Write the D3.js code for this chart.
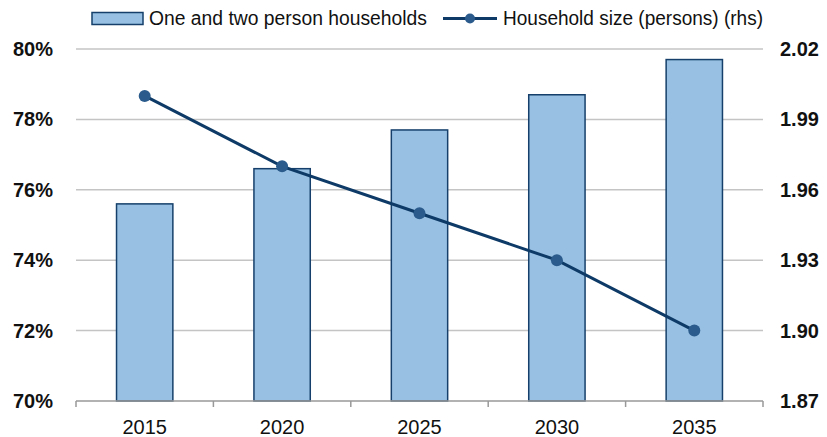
<!DOCTYPE html>
<html>
<head>
<meta charset="utf-8">
<script src="https://cdn.jsdelivr.net/npm/d3@7"></script>
<style>
  body { margin: 0; background: #fff; }
  text { font-family: "Liberation Sans", Arial, sans-serif; }
</style>
</head>
<body>
<div id="chart"></div>
<script>
const years = ["2015", "2020", "2025", "2030", "2035"]
const sharePct = [75.6, 76.6, 77.7, 78.7, 79.7]
const hhSize = [2.00, 1.97, 1.95, 1.93, 1.90]
const leftTicks = [70, 72, 74, 76, 78, 80]
const rightTicks = [1.87, 1.90, 1.93, 1.96, 1.99, 2.02]

const W = 827, H = 437
const m = {top: 49, right: 64, bottom: 36, left: 76}

let svg = d3.select("#chart").append("svg").attr("width", W).attr("height", H)

let x = d3.scaleBand().domain(years).range([m.left, W - m.right]).paddingInner(0.59).paddingOuter(0.295)
let xb = d3.scaleBand().domain(years).range([m.left, W - m.right])
let yL = d3.scaleLinear().domain([70, 80]).range([H - m.bottom, m.top])
let yR = d3.scaleLinear().domain([1.87, 2.02]).range([H - m.bottom, m.top])

// gridlines
svg.selectAll(".grid").data(leftTicks.slice(1)).enter()
  .append("line")
  .attr("x1", m.left).attr("x2", W - m.right)
  .attr("y1", d => yL(d)).attr("y2", d => yL(d))
  .attr("stroke", "#c4c4c4").attr("stroke-width", 1.5)

// bars
svg.selectAll(".bar").data(sharePct).enter()
  .append("rect")
  .attr("x", (d, i) => x(years[i]))
  .attr("width", x.bandwidth())
  .attr("y", d => yL(d))
  .attr("height", d => yL(70) - yL(d))
  .attr("fill", "#98c0e3")
  .attr("stroke", "#16406b").attr("stroke-width", 1.5)

// x axis
svg.append("line")
  .attr("x1", m.left).attr("x2", W - m.right)
  .attr("y1", yL(70)).attr("y2", yL(70))
  .attr("stroke", "#999").attr("stroke-width", 1.5)
let bounds = years.map(d => xb(d)).concat([W - m.right])
svg.selectAll(".tick").data(bounds).enter()
  .append("line")
  .attr("x1", d => d).attr("x2", d => d)
  .attr("y1", yL(70)).attr("y2", yL(70) + 6)
  .attr("stroke", "#999").attr("stroke-width", 1.5)
svg.selectAll(".xlab").data(years).enter()
  .append("text")
  .attr("x", d => xb(d) + xb.bandwidth() / 2)
  .attr("y", H - 3)
  .attr("text-anchor", "middle")
  .attr("font-size", 20)
  .attr("fill", "#111")
  .text(d => d)

// left labels
svg.selectAll(".ylab").data(leftTicks).enter()
  .append("text")
  .attr("x", 53)
  .attr("y", d => yL(d) + 7)
  .attr("text-anchor", "end")
  .attr("font-size", 20).attr("font-weight", "bold")
  .attr("fill", "#111")
  .text(d => d + "%")

// right labels
svg.selectAll(".yrlab").data(rightTicks).enter()
  .append("text")
  .attr("x", 780)
  .attr("y", d => yR(d) + 7)
  .attr("font-size", 20).attr("font-weight", "bold")
  .attr("fill", "#111")
  .text(d => d.toFixed(2))

// line
let line = d3.line().x((d, i) => xb(years[i]) + xb.bandwidth() / 2).y(d => yR(d))
svg.append("path").datum(hhSize)
  .attr("d", line)
  .attr("fill", "none")
  .attr("stroke", "#0d3a66").attr("stroke-width", 3)
svg.selectAll(".dot").data(hhSize).enter()
  .append("circle")
  .attr("cx", (d, i) => xb(years[i]) + xb.bandwidth() / 2)
  .attr("cy", d => yR(d))
  .attr("r", 6)
  .attr("fill", "#2a5b8c")

// legend
let lg = svg.append("g")
lg.append("rect").attr("x", 92).attr("y", 12.5).attr("width", 51).attr("height", 12)
  .attr("fill", "#98c0e3").attr("stroke", "#16406b").attr("stroke-width", 1.5)
lg.append("text").attr("x", 149).attr("y", 25).attr("font-size", 20).attr("fill", "#111")
  .attr("textLength", 278).attr("lengthAdjust", "spacingAndGlyphs")
  .text("One and two person households")
lg.append("line").attr("x1", 443).attr("x2", 497).attr("y1", 18.5).attr("y2", 18.5)
  .attr("stroke", "#0d3a66").attr("stroke-width", 3)
lg.append("circle").attr("cx", 470).attr("cy", 18.5).attr("r", 5).attr("fill", "#2a5b8c")
lg.append("text").attr("x", 503).attr("y", 25).attr("font-size", 20).attr("fill", "#111")
  .attr("textLength", 260).attr("lengthAdjust", "spacingAndGlyphs")
  .text("Household size (persons) (rhs)")
</script>
</body>
</html>
